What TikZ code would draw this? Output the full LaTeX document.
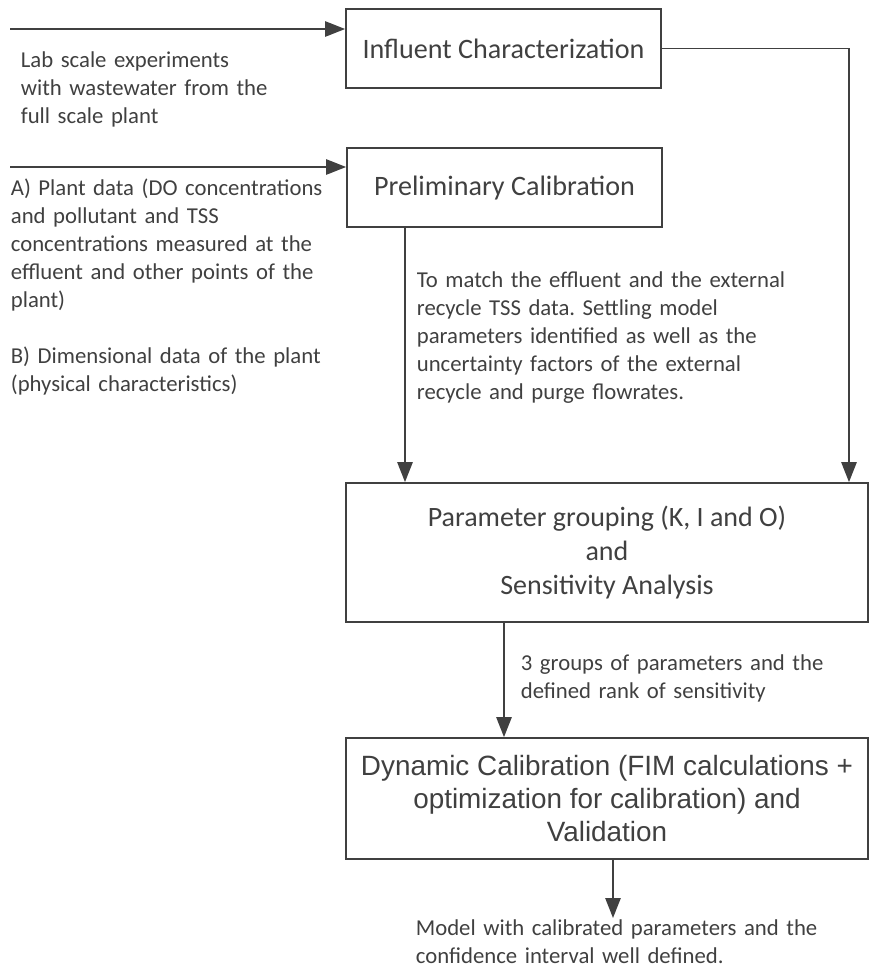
\documentclass[tikz,border=0pt]{standalone}
\usepackage{fontspec}
\setmainfont{Carlito}
\newfontfamily\arialfont{Liberation Sans}
\usetikzlibrary{arrows.meta,calc}
\definecolor{ink}{HTML}{404040}
\frenchspacing

\begin{document}
\begin{tikzpicture}[x=0.03cm, y=-0.03cm, line width=1.5pt, color=ink,
  box/.style={draw, rectangle, inner sep=0pt, align=center},
  note/.style={anchor=base west, align=left, inner sep=0pt, text width=13cm,
    font=\fontsize{19.4}{23.9}\selectfont},
  flow/.style={-{Triangle[length=17pt,width=13pt]}}]
  \useasboundingbox (0,0) rectangle (870,970);
  % Boxes
  \node[box, minimum width=9.45cm, minimum height=2.37cm,
    font=\fontsize{24}{28.8}\selectfont] (infl) at (503.5,48.5) {Influent Characterization};
  \node[box, minimum width=9.45cm, minimum height=2.37cm,
    font=\fontsize{24}{28.8}\selectfont] (prelim) at (504.5,187.5) {Preliminary Calibration};
  \node[box, minimum width=15.66cm, minimum height=4.17cm,
    font=\fontsize{23.9}{28.6}\selectfont] (param) at (607,552.5)
    {Parameter grouping (K, I and O)\\and\\Sensitivity Analysis};
  \node[box, minimum width=15.66cm, minimum height=3.63cm,
    font=\arialfont\fontsize{23.8}{27.8}\selectfont] (dyn) at (607,798.5)
    {Dynamic Calibration (FIM calculations +\\optimization for calibration) and\\Validation};
  % Notes
  \node[note] (lab) at (20,67) {Lab scale experiments\\with wastewater from the\\full scale plant};
  \node[note] (plantdata) at (10,195) {A) Plant data (DO concentrations\\and pollutant and TSS\\concentrations measured at the\\effluent and other points of the\\plant)\\[23.9pt]B) Dimensional data of the plant\\(physical characteristics)};
  \node[note] (match) at (416,287) {To match the effluent and the external\\recycle TSS data. Settling model\\parameters identified as well as the\\uncertainty factors of the external\\recycle and purge flowrates.};
  \node[note] (groups) at (520,670) {3 groups of parameters and the\\defined rank of sensitivity};
  \node[note] (model) at (415,935) {Model with calibrated parameters and the\\confidence interval well defined.};
  % Connectors
  \coordinate (s1) at (10,29);
  \coordinate (s2) at (10,167);
  \coordinate (rc) at (849,0);
  \coordinate (lc) at (405,0);
  \coordinate (mc) at (504,0);
  \coordinate (oc) at (613,918);
  \draw[flow] (s1) -- (s1 -| infl.west);
  \draw[flow] (s2) -- (s2 -| prelim.west);
  \draw[flow] (infl.east) -| (rc |- param.north);
  \draw[flow] (lc |- prelim.south) -- (lc |- param.north);
  \draw[flow] (mc |- param.south) -- (mc |- dyn.north);
  \draw[flow] (oc |- dyn.south) -- (oc);
\end{tikzpicture}
\end{document}
